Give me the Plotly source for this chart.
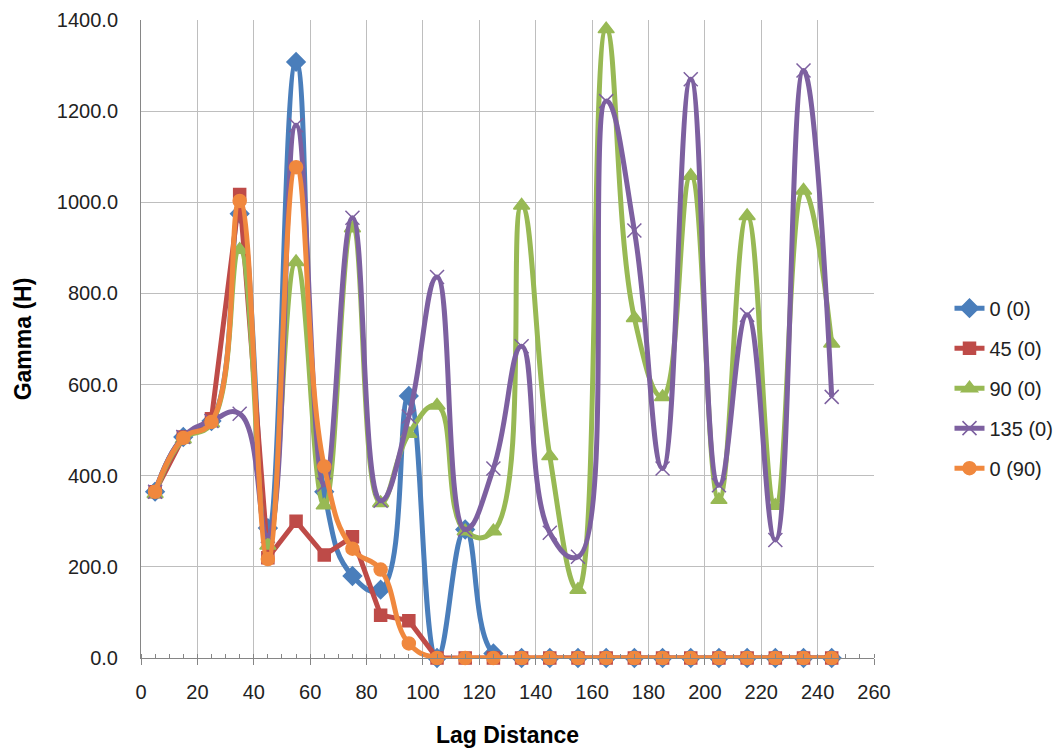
import plotly.graph_objects as go

lag = [5, 15, 25, 35, 45, 55, 65, 75, 85, 95, 105, 115, 125,
       135, 145, 155, 165, 175, 185, 195, 205, 215, 225, 235, 245]

g_0_0 = [365, 485, 520, 975, 285, 1308, 365, 180, 150, 575, 0, 282, 10,
         0, 0, 0, 0, 0, 0, 0, 0, 0, 0, 0, 0]
g_45_0 = [365, 485, 525, 1017, 220, 300, 226, 266, 94, 82, 0, 0, 0,
          0, 0, 0, 0, 0, 0, 0, 0, 0, 0, 0, 0]
g_90_0 = [360, 480, 515, 896, 247, 869, 335, 943, 340, 492, 554, 278, 278,
          993, 443, 150, 1380, 746, 573, 1058, 347, 970, 334, 1026, 690]
g_135_0 = [365, 485, 520, 536, 268, 1169, 380, 966, 345, 530, 836, 282, 416,
           684, 275, 222, 1222, 938, 416, 1270, 379, 753, 259, 1289, 573]
g_0_90 = [365, 483, 518, 1003, 217, 1077, 420, 240, 194, 32, 0, 0, 0,
          0, 0, 0, 0, 0, 0, 0, 0, 0, 0, 0, 0]

series = [
    ("0 (0)", g_0_0, "#4A7EBB", "diamond", 14, "spline"),
    ("45 (0)", g_45_0, "#BE4B48", "square", 12, "linear"),
    ("90 (0)", g_90_0, "#98B954", "triangle-up", 14, "spline"),
    ("135 (0)", g_135_0, "#7D60A0", "x-thin-open", 14, "spline"),
    ("0 (90)", g_0_90, "#F0883E", "circle", 13, "spline"),
]

fig = go.Figure()
for name, vals, color, sym, size, shape in series:
    fig.add_trace(go.Scatter(
        x=lag, y=vals, name=name, legendgroup=name,
        mode="lines+markers",
        line=dict(color=color, width=5, shape=shape, smoothing=1.3),
        marker=dict(symbol=sym, size=size, color=color,
                    line=dict(color=color, width=1.5)),
        cliponaxis=False,
    ))

# page body has an 8px margin, so the margins are smaller on left/top
font = "Liberation Sans, Arial, sans-serif"
fig.update_layout(
    width=1063, height=750,
    margin=dict(l=133, r=194, t=12, b=100),
    paper_bgcolor="white", plot_bgcolor="white",
    font=dict(family=font, size=20, color="#222222"),
    legend=dict(x=1.103, y=0.423, xanchor="left", yanchor="middle",
                tracegroupgap=11, font=dict(size=20),
                bgcolor="rgba(0,0,0,0)"),
)
fig.update_xaxes(
    range=[0, 260], dtick=20, tick0=0, automargin=False,
    showgrid=True, gridcolor="#BEBEBE", gridwidth=1,
    showline=True, linecolor="#868686", linewidth=1,
    ticks="outside", ticklen=6, tickcolor="#868686",
    minor=dict(dtick=5, ticks="inside", ticklen=4, tickcolor="#868686", showgrid=False),
    ticklabelstandoff=10, ticklabeloverflow="allow",
    zeroline=False,
    title=dict(text="<b>Lag Distance</b>", font=dict(size=23, color="#000000"), standoff=24),
)
fig.update_yaxes(
    range=[0, 1400], dtick=200, tickformat=".1f", automargin=False,
    showgrid=True, gridcolor="#BEBEBE", gridwidth=1,
    showline=True, linecolor="#868686", linewidth=1,
    ticks="", ticklabelstandoff=18, ticklabeloverflow="allow",
    zeroline=False,
    title=dict(text="<b>Gamma (H)</b>", font=dict(size=23, color="#000000"), standoff=18),
)

fig.write_html("out.html")
